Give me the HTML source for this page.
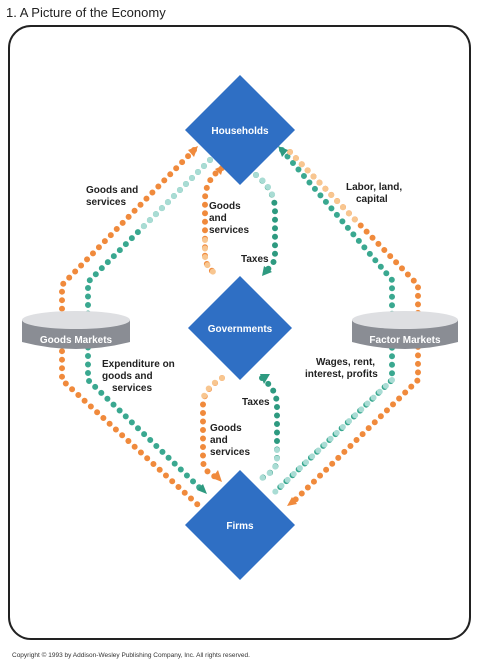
<!DOCTYPE html>
<html><head><style>
body{margin:0;background:#fff;width:478px;height:663px;overflow:hidden;font-family:"Liberation Sans",sans-serif}
</style></head><body>
<svg width="478" height="663" viewBox="0 0 478 663" xmlns="http://www.w3.org/2000/svg" font-family="Liberation Sans, sans-serif">
<text x="6" y="17" font-size="13" fill="#222">1.  A Picture of the Economy</text>
<rect x="9" y="26" width="461" height="613" rx="22" fill="#fff" stroke="#222" stroke-width="2"/>
<g fill="none" stroke-linecap="round" stroke-width="6" stroke-dasharray="0 8.5">
<!-- left outer orange -->
<path d="M194,150 L62,285 L62,380 L198,505" stroke="#f08a3c"/>
<!-- left inner teal -->
<path d="M210,160 L88,282 L88,380 L202,490" stroke="#3aa890"/>
<path d="M210,160 L140,230" stroke="#a9dcd4"/>
<!-- right teal -->
<path d="M282,150 L392,280 L392,380 L275,492" stroke="#3aa890"/>
<path d="M392,380 L275,492" stroke="#a9dcd4"/>
<!-- right orange -->
<path d="M290,152 L418,285 L418,380 L292,503" stroke="#f08a3c"/>
<path d="M290,152 L360,225" stroke="#f8c690"/>
<!-- inner loops -->
<path d="M222,168 Q205,180 205,200 L205,255 Q205,268 218,275" stroke="#f08a3c"/>
<path d="M205,240 L205,255 Q205,268 218,275" stroke="#f8c690"/>
<path d="M256,175 Q275,190 275,210 L275,255 Q275,265 264,272" stroke="#2e9a80"/>
<path d="M256,175 Q270,185 274,200" stroke="#a9dcd4"/>
<path d="M262,378 Q277,390 277,405 L277,460 Q277,470 262,478" stroke="#2e9a80"/>
<path d="M277,450 L277,460 Q277,470 262,478" stroke="#a9dcd4"/>
<path d="M222,378 Q203,390 203,405 L203,460 Q203,472 218,478" stroke="#f08a3c"/>
<path d="M222,378 Q205,388 203,400" stroke="#f8c690"/>
</g>
<!-- arrowheads -->
<g>
<polygon points="198,146 188,150 194,157" fill="#f08a3c"/>
<polygon points="224,165 215,169 221,175" fill="#f08a3c"/>
<polygon points="278,146 288,150 282,157" fill="#2e9a80"/>
<polygon points="262,276 272,272 264,266" fill="#2e9a80"/>
<polygon points="260,374 270,374 264,384" fill="#2e9a80"/>
<polygon points="222,482 212,478 218,470" fill="#f08a3c"/>
<polygon points="207,494 197,490 203,484" fill="#2e9a80"/>
<polygon points="287,506 297,504 292,497" fill="#f08a3c"/>
</g>
<!-- diamonds -->
<polygon points="240,75 295,130 240,185 185,130" fill="#2f6fc4"/>
<polygon points="240,276 292,328 240,380 188,328" fill="#2f6fc4"/>
<polygon points="240,470 295,525 240,580 185,525" fill="#2f6fc4"/>
<g fill="#fff" font-size="10" font-weight="bold" text-anchor="middle">
<text x="240" y="134">Households</text>
<text x="240" y="332">Governments</text>
<text x="240" y="529">Firms</text>
</g>
<!-- cylinders -->
<g>
<path d="M22,320 L22,342 Q76,356 130,342 L130,320 Z" fill="#8a8d94"/>
<ellipse cx="76" cy="320" rx="54" ry="9" fill="#dedfe2"/>
<text x="76" y="343" font-size="10" font-weight="bold" fill="#fff" text-anchor="middle">Goods Markets</text>
<path d="M352,320 L352,342 Q405,356 458,342 L458,320 Z" fill="#8a8d94"/>
<ellipse cx="405" cy="320" rx="53" ry="9" fill="#dedfe2"/>
<text x="405" y="343" font-size="10" font-weight="bold" fill="#fff" text-anchor="middle">Factor Markets</text>
</g>
<!-- labels -->
<g font-size="10" font-weight="bold" fill="#222">
<text x="86" y="193">Goods and</text><text x="86" y="205">services</text>
<text x="346" y="190">Labor, land,</text><text x="356" y="202">capital</text>
<text x="209" y="209">Goods</text><text x="209" y="221">and</text><text x="209" y="233">services</text>
<text x="241" y="262">Taxes</text>
<text x="102" y="367">Expenditure on</text><text x="102" y="379">goods and</text><text x="112" y="391">services</text>
<text x="316" y="365">Wages, rent,</text><text x="305" y="377">interest, profits</text>
<text x="242" y="405">Taxes</text>
<text x="210" y="431">Goods</text><text x="210" y="443">and</text><text x="210" y="455">services</text>
</g>
<text x="12" y="657" font-size="6.5" fill="#333">Copyright © 1993 by Addison-Wesley Publishing Company, Inc. All rights reserved.</text>
</svg>
</body></html>
